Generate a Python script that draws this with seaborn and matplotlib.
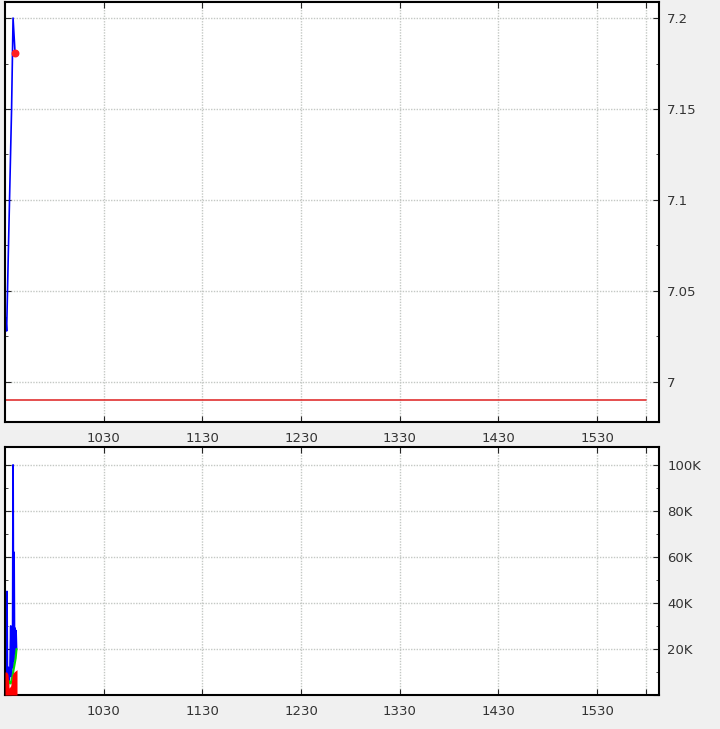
import numpy as np
import pandas as pd
import matplotlib
matplotlib.use("Agg")
import matplotlib.pyplot as plt
from matplotlib.ticker import MultipleLocator, FuncFormatter
import seaborn as sns

sns.set_style("white")
plt.rcParams['font.family'] = ['DejaVu Sans']

# minutes after 09:30
price_t = [0.5, 1.0, 2.0, 3.0, 4.0, 4.9, 6.1]
price = [7.035, 7.028, 7.07, 7.11, 7.15, 7.20, 7.181]
prev_close = 6.99

vol_t = [0.3, 0.8, 1.2, 1.5, 2.0, 2.5, 3.0, 3.5, 3.9, 4.3, 4.6, 4.9, 5.2, 5.5,
         5.8, 6.1, 6.4, 6.7, 7.0]
vol = [8000, 3000, 45000, 5000, 12000, 6000, 10000, 30000, 8000, 28000, 12000,
       100000, 15000, 62000, 20000, 29000, 18000, 28000, 20000]
avg_t = [0.3, 1.5, 2.5, 3.5, 4.5, 5.5, 6.5, 7.0]
avg_vol = [4000, 3000, 6000, 5000, 8000, 12000, 16000, 20000]
red_t = [0.0, 1.0, 1.8, 2.5, 3.5, 4.5, 5.5, 7.3, 7.3]
red_vol = [10000, 10000, 9000, 3000, 4000, 9000, 10000, 11000, 0]

tick_pos = [60, 120, 180, 240, 300, 360, 390]
tick_lab = ['1030', '1130', '1230', '1330', '1430', '1530', '']

fig = plt.figure(figsize=(7.2, 7.29), dpi=100)
fig.patch.set_facecolor('#f0f0f0')
ax1 = fig.add_axes([5/720, 1-422/729, 654/720, 420/729])
ax2 = fig.add_axes([5/720, 1-695/729, 654/720, 248/729])

# price panel
sns.lineplot(x=price_t, y=price, ax=ax1, color='#0000ff', linewidth=1.2)
ax1.scatter([price_t[-1]], [price[-1]], color='#ff2020', s=22, zorder=5)
ax1.plot([0, 390], [prev_close, prev_close], color='#e03030', linewidth=1.2)
ax1.set_ylim(6.978, 7.2088)
ax1.yaxis.set_major_locator(MultipleLocator(0.05))
ax1.yaxis.set_minor_locator(MultipleLocator(0.025))
ax1.yaxis.set_major_formatter(FuncFormatter(lambda v, p: f"{v:g}" if v < 7.21 else ""))

# volume panel
sns.lineplot(x=vol_t, y=vol, ax=ax2, color='#0000ff', linewidth=1.3)
sns.lineplot(x=avg_t, y=avg_vol, ax=ax2, color='#00dd00', linewidth=1.5)
ax2.fill_between(red_t, 0, red_vol, color='#ff0000', linewidth=0, zorder=4)
ax2.set_ylim(0, 107800)
ax2.yaxis.set_major_locator(MultipleLocator(20000))
ax2.yaxis.set_minor_locator(MultipleLocator(10000))
ax2.yaxis.set_major_formatter(FuncFormatter(lambda v, p: f"{int(v/1000)}K" if v > 0 else ""))

for ax in (ax1, ax2):
    ax.set_facecolor('white')
    ax.set_xlim(0, 397.6)
    ax.set_xticks(tick_pos)
    ax.set_xticklabels(tick_lab)
    ax.grid(True, which='major', color='#c4c8c4', linestyle=(0, (1, 1)), linewidth=1.0)
    ax.yaxis.tick_right()
    ax.tick_params(axis='y', which='both', direction='in', left=True, right=True,
                   labelleft=False, labelright=True, labelsize=9.5,
                   labelcolor='#333333', pad=6)
    ax.tick_params(axis='y', which='major', length=4)
    ax.tick_params(axis='y', which='minor', length=2)
    ax.tick_params(axis='x', direction='in', top=True, bottom=True, length=4,
                   labelsize=9.5, labelcolor='#333333', pad=7)
    for s in ax.spines.values():
        s.set_color('black')
        s.set_linewidth(1.5)
    ax.set_xlabel('')
    ax.set_ylabel('')

fig.savefig('out.png', dpi=100, facecolor=fig.get_facecolor())
